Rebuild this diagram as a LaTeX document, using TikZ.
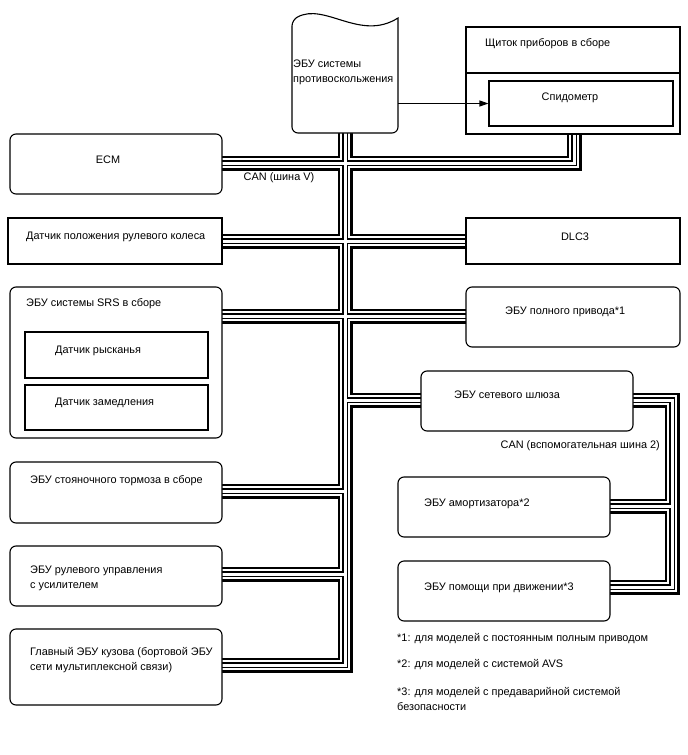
\documentclass[tikz,border=0pt]{standalone}
\usepackage{fontspec}
\setmainfont{Liberation Sans}
\usetikzlibrary{fit,arrows.meta}
\tikzset{
  boxline/.style={draw=black,line width=1.1pt,fill=white,inner sep=0pt},
  sqbox/.style={boxline},
  rbox/.style={boxline,rounded corners=6pt},
  txt/.style={inner sep=0pt,font=\fontsize{10.9}{15}\selectfont,align=left},
  busA/.style={draw=black,line width=15pt},
  busB/.style={draw=white,line width=9.5pt},
  busC/.style={draw=black,line width=5.5pt},
  busD/.style={draw=white,line width=3pt},
}
\newcommand\drawbus[1]{%
  \draw[#1] (tTop) -- (tBot) -- (bodyIn)
            (ecmIn) -- (clCorner) -- (clIn)
            (dposIn) -- (dlcIn)
            (srsIn) -- (awdIn)
            (jgw) -- (gwIn)
            (parkIn) -- (jpark)
            (epsIn) -- (jeps)
            (gwOut) -- (subCorner) -- (subBot) -- (assistIn)
            (subMid) -- (shockIn);%
}
\begin{document}
\begin{tikzpicture}[x=1pt,y=-1pt]
\fill[white] (0,0) rectangle (688,755);
\useasboundingbox (0,0) rectangle (688,755);

% bus coordinates
\coordinate (tTop) at (345,130);
\coordinate (tBot) at (345,665);
\coordinate (bodyIn) at (222,665);
\coordinate (ecmIn) at (222,163);
\coordinate (clCorner) at (574,163);
\coordinate (clIn) at (574,134);
\coordinate (dposIn) at (222,241);
\coordinate (dlcIn) at (466,241);
\coordinate (srsIn) at (222,316);
\coordinate (awdIn) at (466,316);
\coordinate (jgw) at (345,400);
\coordinate (gwIn) at (421,400);
\coordinate (parkIn) at (222,491);
\coordinate (jpark) at (345,491);
\coordinate (epsIn) at (222,574);
\coordinate (jeps) at (345,574);
\coordinate (gwOut) at (633,400);
\coordinate (subCorner) at (672,400);
\coordinate (subBot) at (672,587);
\coordinate (assistIn) at (610,587);
\coordinate (subMid) at (672,506);
\coordinate (shockIn) at (610,506);

\drawbus{busA}
\drawbus{busB}
\drawbus{busC}
\drawbus{busD}

% skid control ECU (document shape)
\draw[line width=1.1pt,fill=white] (292,20) .. controls (325,2) and (360,42) .. (398,18)
  [rounded corners=6pt] -- (398,133) -- (292,133) -- cycle;
\node[inner sep=0pt,fit={(292,20) (398,133)}] (abs) {};
\node[txt,anchor=west] (abst) at (293,72) {ЭБУ системы\\противоскольжения};

% instrument cluster
\node[sqbox,fit={(466,27) (680,134)}] (cl) {};
\draw[line width=1.1pt] (cl.west |- 0,73) -- (cl.east |- 0,73);
\node[txt,anchor=west] (clt) at (485,44) {Щиток приборов в сборе};
\node[sqbox,fit={(489,81) (673,126)}] (speedo) {};
\node[txt] (speedot) at (570,98) {Спидометр};
\coordinate (absout) at (398,103.5);
\draw[line width=1.1pt,-{Triangle[length=9pt,width=6pt]}] (absout) -- (speedo.west);

% left side
\node[rbox,fit={(10,134) (222,194)}] (ecm) {};
\node[txt] (ecmt) at (108,160) {ECM};
\node[txt] (canv) at (279,178) {CAN (шина V)};

\node[sqbox,fit={(8,218) (222,264)}] (dpos) {};
\node[txt,anchor=west] (dpost) at (26,237) {Датчик положения рулевого колеса};

\node[rbox,fit={(10,287) (222,438)}] (srs) {};
\node[txt,anchor=west] (srst) at (26,304) {ЭБУ системы SRS в сборе};
\node[sqbox,fit={(25,332) (208,378)}] (yaw) {};
\node[txt,anchor=west] (yawt) at (55,351) {Датчик рысканья};
\node[sqbox,fit={(25,385) (208,430)}] (decel) {};
\node[txt,anchor=west] (decelt) at (55,403) {Датчик замедления};

\node[rbox,fit={(10,462) (222,523)}] (park) {};
\node[txt,anchor=west] (parkt) at (30,481) {ЭБУ стояночного тормоза в сборе};

\node[rbox,fit={(10,546) (222,606)}] (eps) {};
\node[txt,anchor=west] (epst) at (30,578) {ЭБУ рулевого управления\\с усилителем};

\node[rbox,fit={(10,629) (222,705)}] (body) {};
\node[txt,anchor=west] (bodyt) at (30,660) {Главный ЭБУ кузова (бортовой ЭБУ\\сети мультиплексной связи)};

% right side
\node[sqbox,fit={(466,218) (680,264)}] (dlc) {};
\node[txt] (dlct) at (575,237) {DLC3};

\node[rbox,fit={(466,287) (680,347)}] (awd) {};
\node[txt,anchor=west] (awdt) at (505,312) {ЭБУ полного привода*1};

\node[rbox,fit={(421,371) (633,431)}] (gw) {};
\node[txt,anchor=west] (gwt) at (454,395) {ЭБУ сетевого шлюза};
\node[txt,anchor=east] (can2) at (660,446) {CAN (вспомогательная шина 2)};

\node[rbox,fit={(398,477) (610,537)}] (shock) {};
\node[txt,anchor=west] (shockt) at (424,504) {ЭБУ амортизатора*2};

\node[rbox,fit={(398,561) (610,621)}] (assist) {};
\node[txt,anchor=west] (assistt) at (424,588) {ЭБУ помощи при движении*3};

% footnotes
\node[txt,anchor=west] (fn1) at (397,639) {*1: для моделей с постоянным полным приводом};
\node[txt,anchor=west] (fn2) at (397,665) {*2: для моделей с системой AVS};
\node[txt,anchor=west] (fn3) at (397,699) {*3: для моделей с предаварийной системой\\безопасности};
\end{tikzpicture}
\end{document}
